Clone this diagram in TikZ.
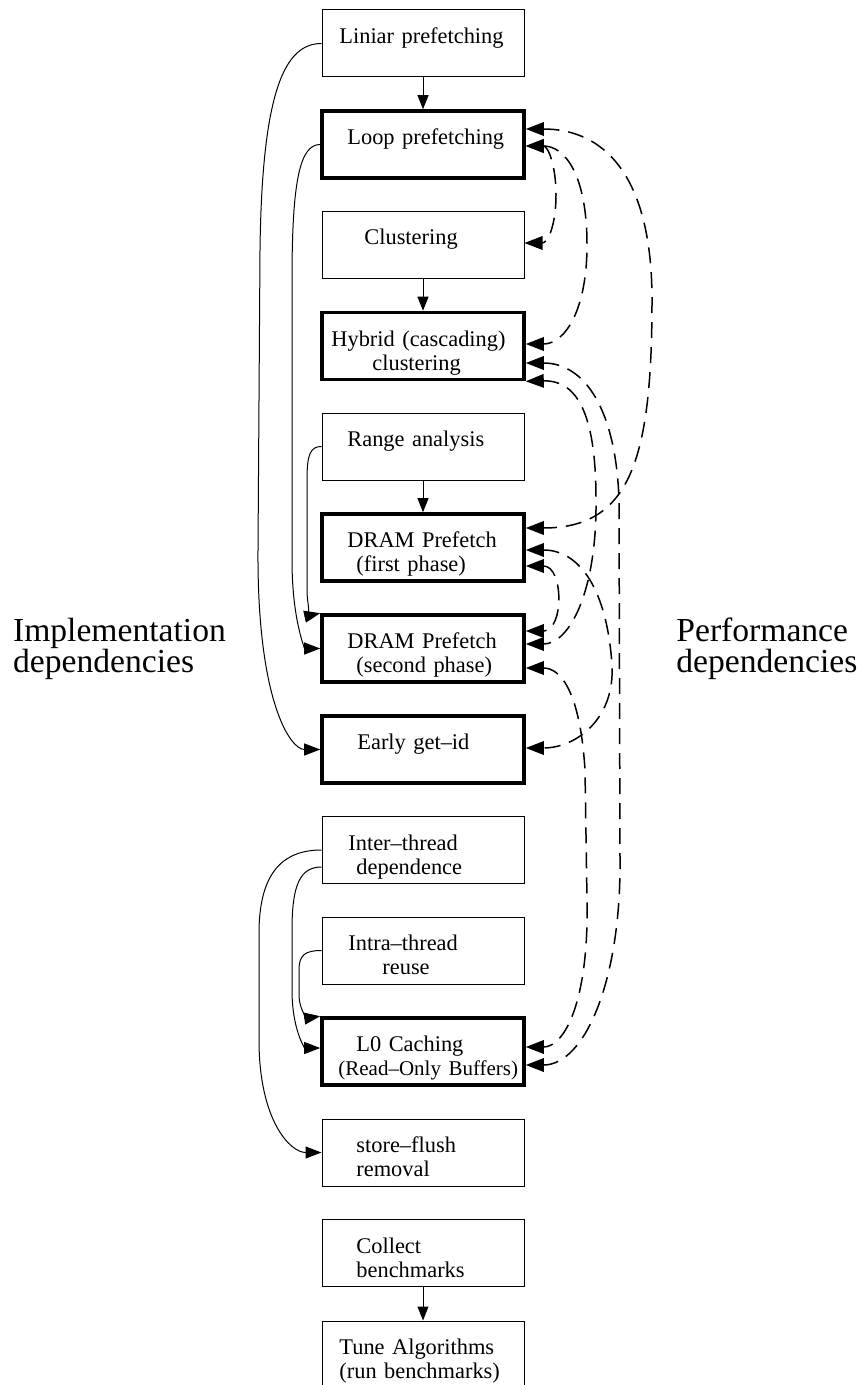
\documentclass[tikz,border=0pt]{standalone}
\usepackage{fontspec}
\setmainfont{Liberation Serif}
\usetikzlibrary{arrows.meta,calc}

\begin{document}
\begin{tikzpicture} [x=0.5pt, y=-0.5pt,
	pbox/.style={draw, line width=0.5pt, minimum width=101pt, minimum height=33.5pt, inner sep=0pt},
	bbox/.style={pbox, line width=1.8pt},
	txt/.style={anchor=base west, inner sep=0pt, align=left, text width=110pt, font=\fontsize{11.2}{12.2}\selectfont},
	bigtxt/.style={anchor=base west, inner sep=0pt, align=left, text width=130pt, font=\fontsize{16.8}{15.5}\selectfont},
	seqarrow/.style={line width=0.5pt, -{Triangle[length=7pt,width=5.5pt]}},
	implarrow/.style={line width=0.5pt, -{Triangle[length=8pt,width=6pt]}},
	perfarrow/.style={line width=0.75pt, dash pattern=on 8pt off 4.5pt, {Triangle[length=9pt,width=6.8pt]}-{Triangle[length=9pt,width=6.8pt]}}]
			\useasboundingbox (0,0) rectangle (856,1385);
			\foreach \n/\y in {liniar/43.5, clust/245, range/446.5, inter/850, intra/950.5, store/1152.5, collect/1253, tune/1354.5}
				\node [pbox] (\n) at (423,\y) {};
			\foreach \n/\y in {loop/144.5, hybrid/346, dram1/547.5, dram2/648.5, early/749.5, lzero/1051.5}
				\node [bbox] (\n) at (423,\y) {};
			\node [txt] (liniar-t) at (339,43.5) {Liniar prefetching};
			\node [txt] (loop-t) at (347,144.5) {Loop prefetching};
			\node [txt] (clust-t) at (364,245) {Clustering};
			\node [txt] (hybrid-t) at (331,346) {Hybrid (cascading)\\\hspace*{20.5pt}clustering};
			\node [txt] (range-t) at (347,446.5) {Range analysis};
			\node [txt] (dram1-t) at (347,547.5) {DRAM Prefetch\\\hspace*{4.5pt}(first phase)};
			\node [txt] (dram2-t) at (347,648.5) {DRAM Prefetch\\\hspace*{4.5pt}(second phase)};
			\node [txt] (early-t) at (357,749.5) {Early get--id};
			\node [txt] (inter-t) at (348,850) {Inter--thread\\\hspace*{4pt}dependence};
			\node [txt] (intra-t) at (348,950.5) {Intra--thread\\\hspace*{17pt}reuse};
			\node [txt] (lzero-t) at (338,1051.5) {\hspace*{9pt}L0 Caching\\{\fontsize{10.5}{12.2}\selectfont(Read--Only Buffers)}};
			\node [txt] (store-t) at (356,1152.5) {store--flush\\removal};
			\node [txt] (collect-t) at (356,1253) {Collect\\benchmarks};
			\node [txt] (tune-t) at (339,1354.5) {Tune Algorithms\\(run benchmarks)};
			\node [bigtxt] (impl-t) at (12.7,641) {Implementation\\dependencies};
			\node [bigtxt] (perf-t) at (676,641) {Performance\\dependencies};
			\draw [seqarrow] (liniar) -- (loop);
			\draw [seqarrow] (clust) -- (hybrid);
			\draw [seqarrow] (range) -- (dram1);
			\draw [seqarrow] (collect) -- (tune);
			\draw [implarrow] (liniar.west) .. controls (285,43.5) and (262,90) .. (260,250) -- (258,550) .. controls (257,700) and (290,749.5) .. (early.west);
			\draw [implarrow] (loop.west) .. controls (300,144.5) and (292,180) .. (292,280) -- (292,560) .. controls (292,620) and (305,648.5) .. (dram2.west);
			\draw [implarrow] (range.west) .. controls (310,446.5) and (307,455) .. (307,480) -- (307,590) .. controls (307,605) and (312,615) .. (dram2.north west);
			\draw [implarrow] (inter.west) .. controls (285,850) and (260,870) .. (259,930) -- (259,1040) .. controls (259,1120) and (290,1152.5) .. (store.west);
			\draw [implarrow] ($(inter.west)+(0,17)$) .. controls (300,867) and (292,885) .. (292,930) -- (292,990) .. controls (292,1030) and (305,1048) .. ($(lzero.west)+(0,-3.5)$);
			\draw [implarrow] (intra.west) .. controls (305,950.5) and (299,955) .. (299,970) -- (299,995) .. controls (299,1010) and (308,1018) .. (lzero.north west);
			\draw [perfarrow] ($(loop.east)+(0,-15.5)$) .. controls (600,129) and (652,170) .. (652,300) .. controls (652,460) and (630,528) .. ($(dram1.east)+(0,-19.5)$);
			\draw [perfarrow] ($(loop.east)+(0,1.5)$) .. controls (548,146) and (556,165) .. (556,195) .. controls (556,225) and (548,243) .. ($(clust.east)+(0,-2)$);
			\draw [perfarrow] ($(loop.east)+(0,1.5)$) .. controls (565,146) and (587,175) .. (587,245) .. controls (587,310) and (565,344) .. ($(hybrid.east)+(0,-2)$);
			\draw [perfarrow] ($(hybrid.east)+(0,17)$) .. controls (585,363) and (616,410) .. (619,500) -- (620,860) .. controls (621,980) and (585,1065) .. ($(lzero.east)+(0,13.5)$);
			\draw [perfarrow] (hybrid.south east) .. controls (580,380) and (596,420) .. (596,500) .. controls (597,590) and (570,644) .. ($(dram2.east)+(0,-4.5)$);
			\draw [perfarrow] ($(dram1.east)+(0,2.5)$) .. controls (580,550) and (607,590) .. (612,665) .. controls (615,720) and (575,748) .. ($(early.east)+(0,-1.5)$);
			\draw [perfarrow] ($(dram1.east)+(0,18.5)$) .. controls (564,566) and (564,631) .. ($(dram2.east)+(0,-17.5)$);
			\draw [perfarrow] ($(dram2.east)+(0,19.5)$) .. controls (560,668) and (580,690) .. (585,770) -- (587,900) .. controls (589,1000) and (565,1047) .. ($(lzero.east)+(0,-4.5)$);
\end{tikzpicture}
\end{document}
